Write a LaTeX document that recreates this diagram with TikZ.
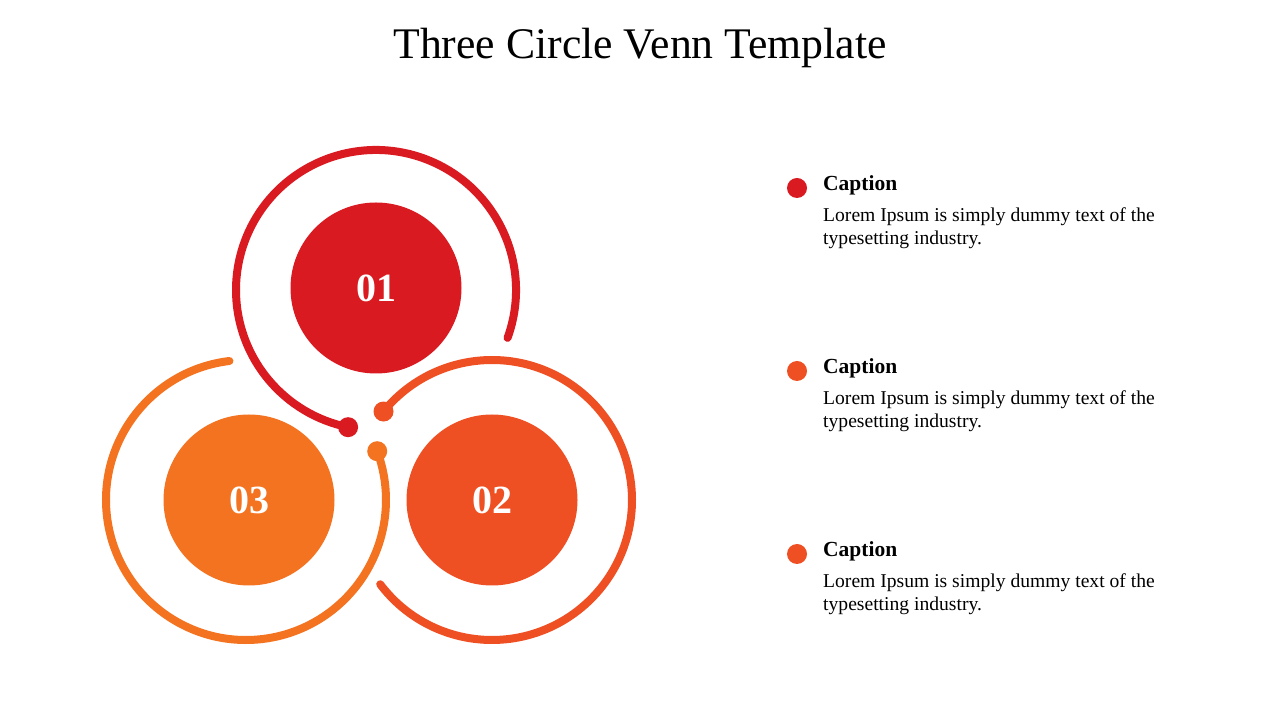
\documentclass[tikz,border=0pt]{standalone}
\usepackage{xcolor}
\usepackage{fontspec}
\setmainfont{Liberation Serif}
\usetikzlibrary{positioning}

\definecolor{vennred}{RGB}{217,26,33}
\definecolor{vennflame}{RGB}{239,80,35}
\definecolor{vennorange}{RGB}{243,115,33}

\begin{document}
\begin{tikzpicture}[x=1pt,y=1pt,
  ring/.style={line width=8pt,line cap=round},
  disk/.style={circle,minimum size=171pt,inner sep=0pt,text=white,
    font=\fontsize{40}{44}\selectfont\bfseries},
  knob/.style={circle,minimum size=20pt,inner sep=0pt},
  captitle/.style={anchor=base west,inner sep=0pt,
    font=\fontsize{21.5}{25}\selectfont\bfseries},
  capbody/.style={anchor=north west,inner sep=0pt,align=left,
    font=\fontsize{19.6}{23}\selectfont}]
  \useasboundingbox (0,0) rectangle (1280,720);

  % Title
  \node[font=\fontsize{43.7}{48}\selectfont] (title) at (640,672) {Three Circle Venn Template};

  % Circle 01
  \coordinate (c1) at (376,430);
  \draw[ring,vennred] ([shift={(-20:140)}]c1) arc[start angle=-20,end angle=258.5,radius=140];
  \node[knob,fill=vennred] (k1) at ([shift={(258.5:140)}]c1) {};
  \node[disk,fill=vennred] (d1) at (376,432) {01};

  % Circle 02
  \coordinate (c2) at (492,220);
  \draw[ring,vennflame] ([shift={(140.8:140)}]c2) arc[start angle=140.8,end angle=-143,radius=140];
  \node[knob,fill=vennflame] (k2) at ([shift={(140.8:140)}]c2) {};
  \node[disk,fill=vennflame] (d2) at (492,220) {02};

  % Circle 03
  \coordinate (c3) at (246,220);
  \draw[ring,vennorange] ([shift={(96.8:140)}]c3) arc[start angle=96.8,end angle=380.4,radius=140];
  \node[knob,fill=vennorange] (k3) at ([shift={(20.4:140)}]c3) {};
  \node[disk,fill=vennorange] (d3) at (249,220) {03};

  % Caption 1
  \node[knob,fill=vennred] (p1) at (797,532) {};
  \node[captitle] (t1) at (823,529) {Caption};
  \node[capbody] (b1) at (823,512) {Lorem Ipsum is simply dummy text of the\\typesetting industry.};

  % Caption 2
  \node[knob,fill=vennflame] (p2) at (797,349) {};
  \node[captitle] (t2) at (823,346) {Caption};
  \node[capbody] (b2) at (823,329) {Lorem Ipsum is simply dummy text of the\\typesetting industry.};

  % Caption 3
  \node[knob,fill=vennflame] (p3) at (797,166) {};
  \node[captitle] (t3) at (823,163) {Caption};
  \node[capbody] (b3) at (823,146) {Lorem Ipsum is simply dummy text of the\\typesetting industry.};
\end{tikzpicture}
\end{document}
